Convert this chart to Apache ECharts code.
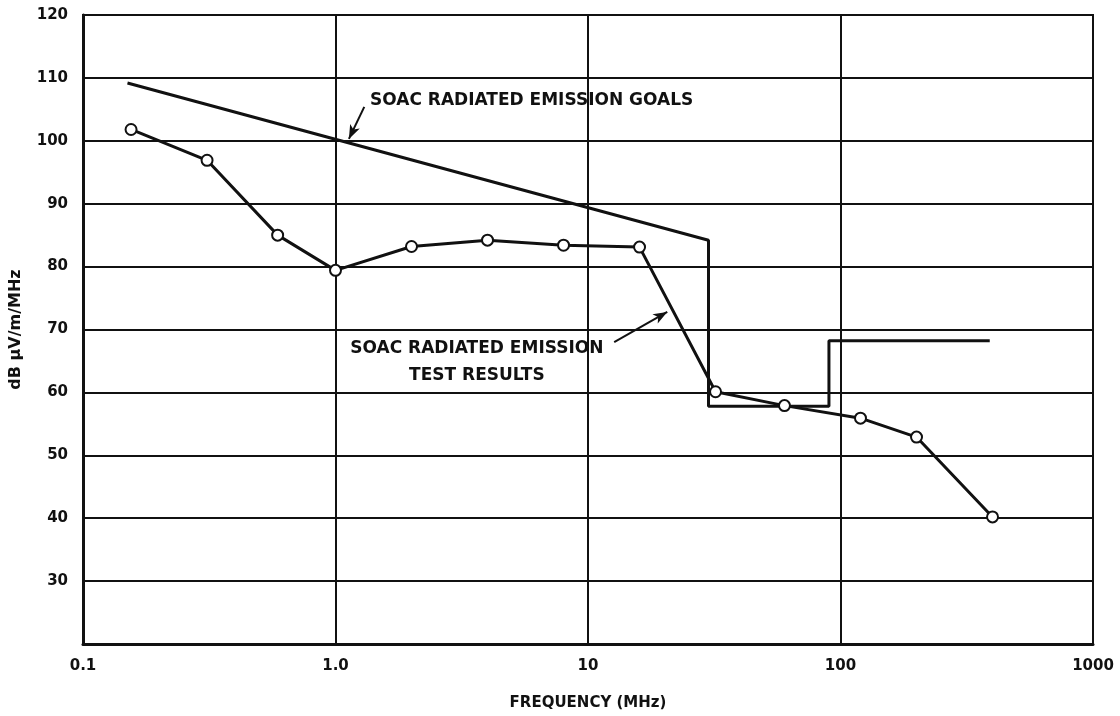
<!DOCTYPE html>
<html>
<head>
<meta charset="utf-8">
<script src="https://cdn.jsdelivr.net/npm/echarts@6/dist/echarts.min.js"></script>
<style>
  html, body { margin: 0; padding: 0; background: #fff; }
  #chart { width: 1120px; height: 716px; }
</style>
</head>
<body>
<div id="chart"></div>
<script>
// 频率轴刻度（对数）
const freqTicks = [0.1, 1, 10, 100, 1000];
const freqTickLabels = ['0.1', '1.0', '10', '100', '1000'];

// SOAC 辐射发射目标（阶梯线）
const goalFreq = [0.15, 30, 30, 90, 90, 390];
const goalLevel = [109.2, 84.2, 57.8, 57.8, 68.2, 68.2];

// SOAC 辐射发射测试结果
const testFreq = [0.155, 0.31, 0.59, 1.0, 2.0, 4.0, 8.0, 16, 32, 60, 120, 200, 400];
const testLevel = [101.8, 96.9, 85.0, 79.4, 83.2, 84.2, 83.4, 83.1, 60.1, 57.9, 55.9, 52.9, 40.2];

// 注释文字与箭头（数据坐标）
const goalNote = { text: 'SOAC RADIATED EMISSION GOALS', at: [1.37, 106.4] };
const goalArrow = [[1.30, 105.4], [1.13, 100.3]];
const testNote = { text: 'SOAC RADIATED EMISSION\nTEST RESULTS', at: [3.63, 64.8] };
const testArrow = [[12.7, 68.0], [20.6, 72.8]];

const font = '"DejaVu Sans", Verdana, sans-serif';
const chart = echarts.init(document.getElementById('chart'));

const zip = (xs, ys) => xs.map((x, i) => [x, ys[i]]);

chart.setOption({
  animation: false,
  backgroundColor: '#fff',
  grid: {
    left: 83, right: 27, top: 15, bottom: 70,
    show: true, borderColor: '#111', borderWidth: 2
  },
  xAxis: {
    type: 'log',
    logBase: 10,
    min: 0.1,
    max: 1000,
    name: 'FREQUENCY (MHz)',
    nameLocation: 'middle',
    nameGap: 52,
    nameTextStyle: { fontFamily: font, fontWeight: 'bold', fontSize: 15, color: '#111' },
    axisLine: { lineStyle: { color: '#111', width: 3 } },
    axisTick: { show: false },
    axisLabel: {
      margin: 15,
      fontFamily: font, fontWeight: 'bold', fontSize: 15, color: '#111',
      formatter: v => {
        const i = freqTicks.findIndex(t => Math.abs(Math.log10(t) - Math.log10(v)) < 1e-6);
        return i >= 0 ? freqTickLabels[i] : '';
      }
    },
    splitLine: { show: true, lineStyle: { color: '#111', width: 2 } },
    minorTick: { show: false },
    minorSplitLine: { show: false }
  },
  yAxis: {
    type: 'value',
    min: 20,
    max: 120,
    interval: 10,
    name: 'dB \u00b5V/m/MHz',
    nameLocation: 'middle',
    nameGap: 59,
    nameRotate: 90,
    nameTextStyle: { fontFamily: font, fontWeight: 'bold', fontSize: 16, color: '#111' },
    axisLine: { show: true, lineStyle: { color: '#111', width: 3 } },
    axisTick: { show: false },
    axisLabel: {
      margin: 15,
      fontFamily: font, fontWeight: 'bold', fontSize: 15, color: '#111',
      formatter: v => (v === 20 ? '' : String(v))
    },
    splitLine: { show: true, lineStyle: { color: '#111', width: 2 } }
  },
  series: [
    {
      name: 'goals',
      type: 'line',
      data: zip(goalFreq, goalLevel),
      symbol: 'none',
      lineStyle: { color: '#111', width: 3 },
      z: 3,
      markPoint: {
        symbol: 'circle',
        symbolSize: 0,
        data: [{
          coord: goalNote.at,
          label: {
            show: true, formatter: goalNote.text, position: 'right', distance: 0,
            fontFamily: font, fontWeight: 'bold', fontSize: 17, color: '#111'
          }
        }]
      },
      markLine: {
        silent: true,
        symbol: ['none', 'arrow'],
        symbolSize: [8, 14],
        lineStyle: { color: '#111', width: 2, type: 'solid' },
        label: { show: false },
        data: [[{ coord: goalArrow[0] }, { coord: goalArrow[1] }]]
      }
    },
    {
      name: 'test',
      type: 'line',
      data: zip(testFreq, testLevel),
      symbol: 'circle',
      symbolSize: 11,
      itemStyle: { color: '#fff', borderColor: '#111', borderWidth: 2 },
      lineStyle: { color: '#111', width: 3 },
      z: 4,
      markPoint: {
        symbol: 'circle',
        symbolSize: 0,
        data: [{
          coord: testNote.at,
          label: {
            show: true, formatter: testNote.text, position: 'inside',
            align: 'center', lineHeight: 27,
            fontFamily: font, fontWeight: 'bold', fontSize: 17, color: '#111'
          }
        }]
      },
      markLine: {
        silent: true,
        symbol: ['none', 'arrow'],
        symbolSize: [8, 14],
        lineStyle: { color: '#111', width: 2, type: 'solid' },
        label: { show: false },
        data: [[{ coord: testArrow[0] }, { coord: testArrow[1] }]]
      }
    }
  ]
});

window.addEventListener('resize', () => chart.resize());
</script>
</body>
</html>
